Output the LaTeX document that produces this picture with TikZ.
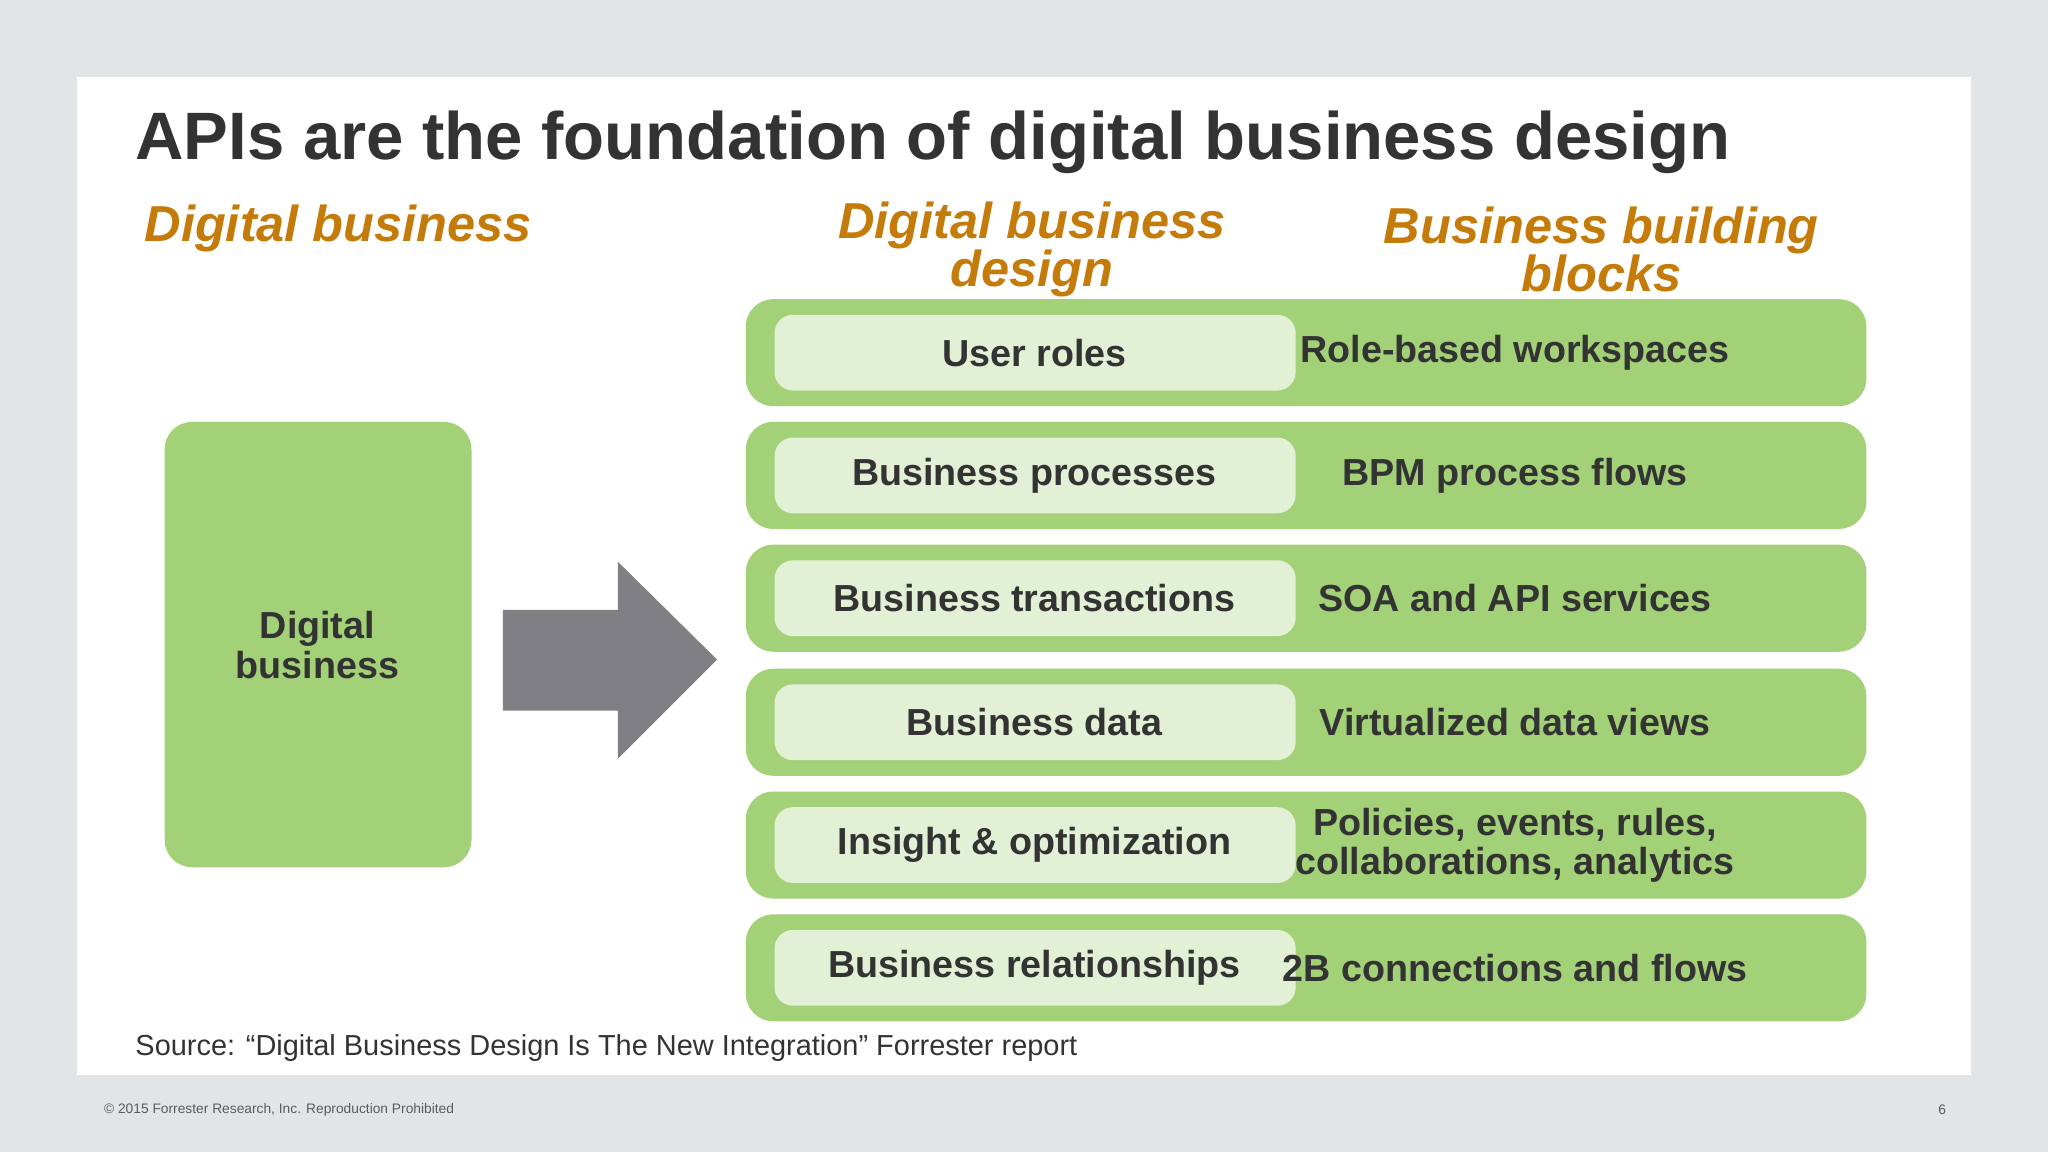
\documentclass[tikz,border=0pt]{standalone}
\usepackage{fontspec}
\setmainfont{Liberation Sans}
\definecolor{bg}{HTML}{E1E5E6}
\definecolor{grn}{HTML}{A3D177}
\definecolor{lgrn}{HTML}{E2F0D5}
\definecolor{org}{HTML}{C57B0A}
\definecolor{dk}{HTML}{333333}
\definecolor{arr}{HTML}{807F83}
\begin{document}
\begin{tikzpicture}[x=0.01cm,y=-0.01cm,
  bar/.style={fill=grn,rounded corners=6pt},
  inner/.style={fill=lgrn,rounded corners=4pt},
  rowtxt/.style={font=\fontsize{8.2}{8.6}\selectfont\bfseries,text=dk,align=center},
  head/.style={font=\fontsize{11}{10.4}\selectfont\bfseries\itshape,text=org,align=center}]
\fill[bg] (0,0) rectangle (1568,882);
\useasboundingbox (0,0) rectangle (1568,882);
\fill[white] (59,59) rectangle (1509,823);
\node[anchor=base west,inner sep=0,font=\fontsize{14.6}{16}\selectfont\bfseries,text=dk] (title) at (103,122) {APIs are the foundation of digital business design};
\node[head,anchor=base west,inner sep=0] (h1) at (110,185) {Digital business};
\node[head] (h2) at (790,191) {Digital business\\design};
\node[head] (h3) at (1226,191) {Business building\\blocks};
\fill[grn,rounded corners=6pt] (126,323) rectangle (361,664);
\node[rowtxt] (db) at (243,494) {Digital\\business};
\fill[arr] (385,467) -- (473,467) -- (473,430) -- (549,505) -- (473,581) -- (473,544) -- (385,544) -- cycle;
\foreach \y/\a/\b [count=\i] in {
  270/User roles/Role-based workspaces,
  364/Business processes/BPM process flows,
  458/Business transactions/SOA and API services,
  553/Business data/Virtualized data views,
  647/Insight \& optimization/{Policies, events, rules,\\collaborations, analytics},
  741/Business relationships/2B connections and flows}{
  \fill[bar] (571,\y-41) rectangle (1429,\y+41);
  \fill[inner] (593,\y-29) rectangle (992,\y+29);
  \node[rowtxt] (l\i) at (792,\y) {\a};
  \node[rowtxt] (r\i) at (1160,\y) {\b};
}
\node[anchor=base west,inner sep=0,font=\fontsize{6.3}{7}\selectfont,text=dk] (src) at (103,808) {Source: “Digital Business Design Is The New Integration” Forrester report};
\node[anchor=west,inner sep=0,font=\fontsize{3}{3.5}\selectfont,text=dk!80] (copy) at (79,850) {© 2015 Forrester Research, Inc. Reproduction Prohibited};
\node[inner sep=0,font=\fontsize{3}{3.5}\selectfont,text=dk!80] (pg) at (1487,850) {6};
\end{tikzpicture}
\end{document}
